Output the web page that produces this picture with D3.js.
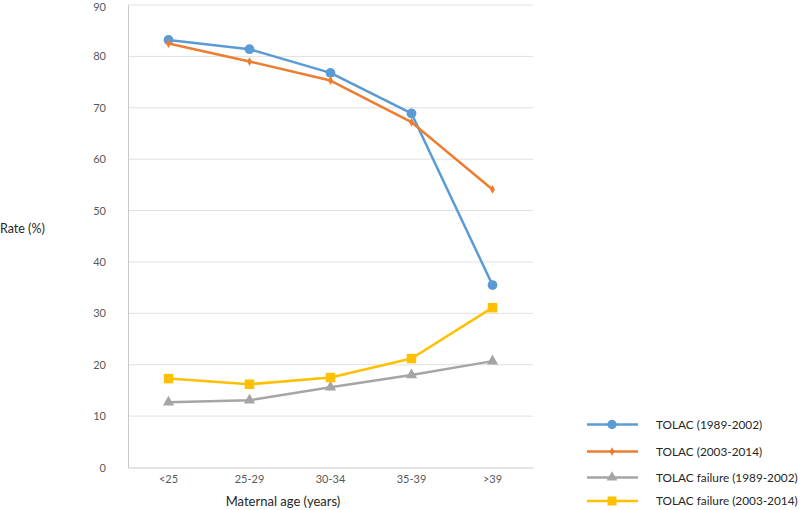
<!DOCTYPE html>
<html><head><meta charset="utf-8">
<script src="https://cdn.jsdelivr.net/npm/d3@7"></script>
<style>body{margin:0;background:#fff;}svg{display:block;font-family:Lato,"Open Sans",sans-serif;}</style>
</head><body>
<svg id="c" width="800" height="510"></svg>
<script>
const categories = ["<25","25-29","30-34","35-39",">39"];
const tolac8902 = [83.2, 81.4, 76.8, 68.9, 35.5];
const tolac0314 = [82.5, 79.0, 75.3, 67.2, 54.1];
const fail8902 = [12.7, 13.1, 15.6, 18.0, 20.7];
const fail0314 = [17.3, 16.2, 17.5, 21.2, 31.1];
const yTicks = [0,10,20,30,40,50,60,70,80,90];
const seriesNames = ["TOLAC (1989-2002)","TOLAC (2003-2014)","TOLAC failure (1989-2002)","TOLAC failure (2003-2014)"];

const series = [
  {name:seriesNames[0], values:tolac8902, color:"#5B9BD5", marker:"circle"},
  {name:seriesNames[1], values:tolac0314, color:"#ED7D31", marker:"diamond"},
  {name:seriesNames[2], values:fail8902, color:"#A5A5A5", marker:"triangle"},
  {name:seriesNames[3], values:fail0314, color:"#FFC000", marker:"square"}
];

const svg = d3.select("#c");
const L=128, R=533, T=5, B=467.5;
const x = d3.scaleBand().domain(categories).range([L,R]);
const y = d3.scaleLinear().domain([0,90]).range([B,T]);
const cx = c => x(c)+x.bandwidth()/2;

// gridlines
svg.append("g").selectAll("line").data(yTicks.filter(d=>d>0)).join("line")
  .attr("x1",L).attr("x2",R).attr("y1",d=>y(d)).attr("y2",d=>y(d))
  .attr("stroke","#e0e0e0").attr("stroke-width",1);

// y axis
const ya = svg.append("g").attr("transform",`translate(${L},0)`)
  .call(d3.axisLeft(y).tickValues(yTicks).tickSize(0).tickPadding(22));
ya.select(".domain").attr("stroke","#c8c8c8");
ya.selectAll("text").attr("fill","#595959").style("font-size","11px").style("font-family","Lato, sans-serif");
ya.selectAll(".tick").filter(d=>d===90).select("text").attr("dy","0.5em");

// x axis
const xa = svg.append("g").attr("transform",`translate(0,${B})`)
  .call(d3.axisBottom(x).tickSize(0).tickPadding(8));
xa.select(".domain").attr("stroke","#c8c8c8");
xa.selectAll("text").attr("fill","#595959").style("font-size","11px").style("font-family","Lato, sans-serif");

// titles
svg.append("text").attr("x",283).attr("y",506).attr("text-anchor","middle")
  .attr("fill","#262626").style("font-size","13px").text("Maternal age (years)");
svg.append("text").attr("x",0).attr("y",233).attr("text-anchor","start")
  .attr("fill","#262626").style("font-size","12.5px").text("Rate (%)");

const symType = {circle:d3.symbolCircle, diamond:d3.symbolDiamond, triangle:d3.symbolTriangle, square:d3.symbolSquare};
const symSize = {circle:75, diamond:22, triangle:55, square:90};

const line = d3.line().x((d,i)=>cx(categories[i])).y(d=>y(d));
series.forEach(s=>{
  svg.append("path").datum(s.values).attr("d",line)
    .attr("fill","none").attr("stroke",s.color).attr("stroke-width",2.5).attr("stroke-linejoin","round");
  svg.append("g").selectAll("path").data(s.values).join("path")
    .attr("transform",(d,i)=>`translate(${cx(categories[i])},${y(d)})`)
    .attr("d",d3.symbol().type(symType[s.marker]).size(symSize[s.marker]))
    .attr("fill",s.color);
});

// legend
const legY = [424.5, 451.5, 477.5, 501];
const leg = svg.append("g");
series.forEach((s,i)=>{
  const g = leg.append("g").attr("transform",`translate(0,${legY[i]})`);
  g.append("line").attr("x1",587).attr("x2",638).attr("stroke",s.color).attr("stroke-width",2.5);
  g.append("path").attr("transform","translate(612,0)")
    .attr("d",d3.symbol().type(symType[s.marker]).size(symSize[s.marker]*0.9)).attr("fill",s.color);
  g.append("text").attr("x",656).attr("y",4).attr("fill","#262626").style("font-size","11.8px").text(s.name);
});
</script>
</body></html>
